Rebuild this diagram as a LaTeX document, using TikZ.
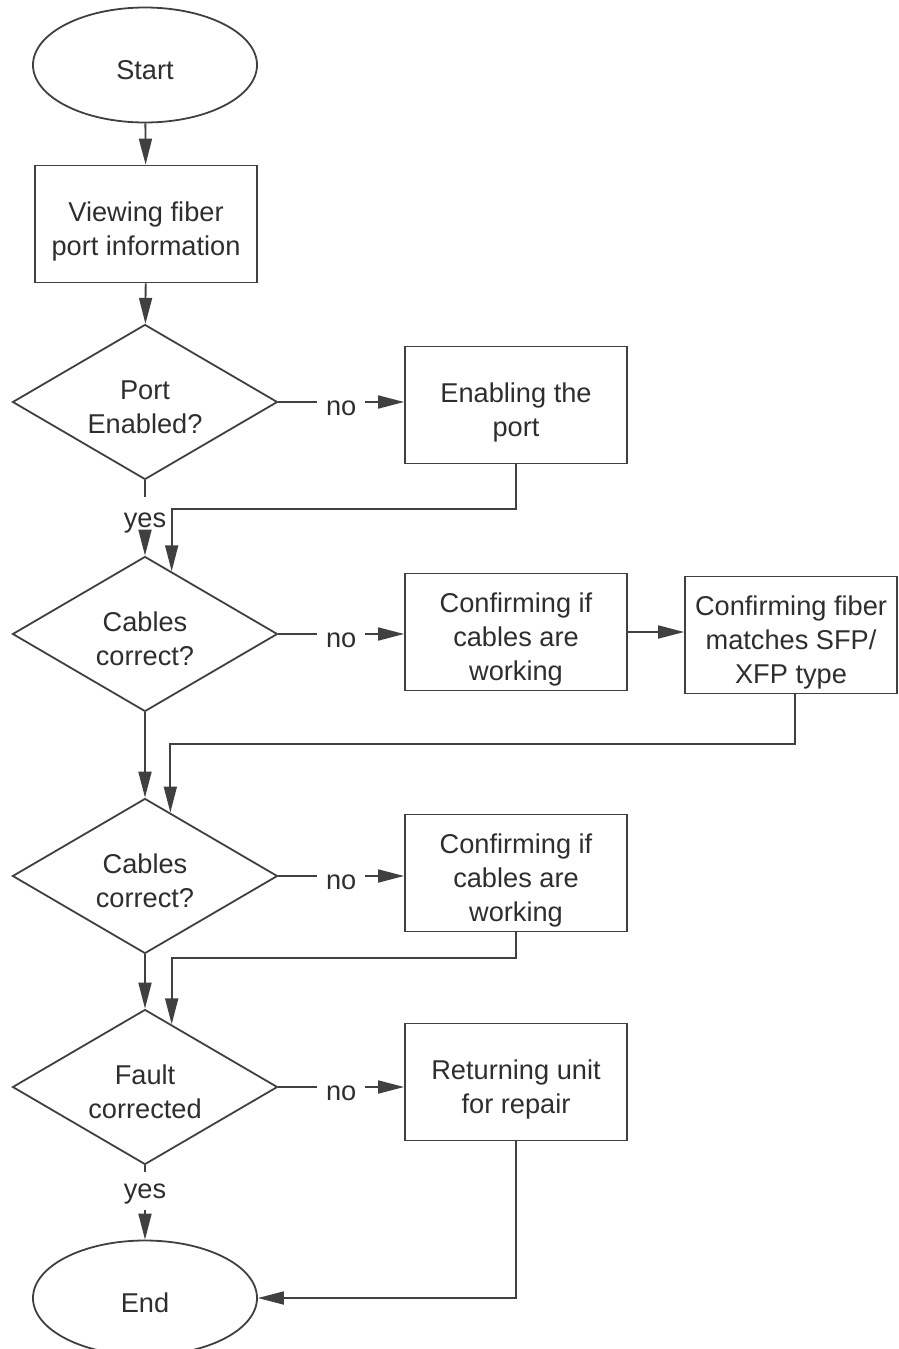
\documentclass[tikz,border=0pt]{standalone}
\usepackage{fontspec}
\setmainfont{Liberation Sans}
\usetikzlibrary{shapes.geometric,arrows.meta,calc}
\newcommand\tx[1]{\raisebox{-4pt}[\height][\depth]{\begin{tabular}{@{}c@{}}#1\end{tabular}}}
\begin{document}
\begin{tikzpicture}[x=0.5pt,y=-0.5pt,
  every node/.style={font=\fontsize{13.6}{17}\selectfont, text=black!82},
  line/.style={draw=black!75, line width=0.9pt},
  arr/.style={line, -{Triangle[length=13pt,width=6.5pt]}},
  term/.style={ellipse, line, minimum width=112pt, minimum height=57.5pt, inner sep=0pt},
  proc/.style={rectangle, line, minimum width=111pt, minimum height=58.5pt, inner sep=2pt},
  dec/.style={diamond, line, minimum width=132.5pt, minimum height=77.5pt, inner sep=0pt, shape aspect=1.71},
  lbl/.style={fill=white, draw=none, inner xsep=4.5pt, inner ysep=3.5pt},
  ylbl/.style={draw=none, inner xsep=4.5pt, inner ysep=0.5pt}
]
\useasboundingbox (0,0) rectangle (899,1349);

\node[term] (start) at (145,65) {\tx{Start}};
\node[proc] (view) at (146,224) {\tx{Viewing fiber\\port information}};
\node[dec] (d1) at (145,402) {\tx{Port\\Enabled?}};
\node[proc] (en) at (516,405) {\tx{Enabling the\\port}};
\node[ylbl] (yes1) at (145,523) {yes};
\node[dec] (d2) at (145,634) {\tx{Cables\\correct?}};
\node[proc] (c1) at (516,632) {\tx{Confirming if\\cables are\\working}};
\node[proc, minimum width=106pt] (fib) at (791,635) {\tx{Confirming fiber\\matches SFP/\\XFP type}};
\node[dec] (d3) at (145,876) {\tx{Cables\\correct?}};
\node[proc] (c2) at (516,873) {\tx{Confirming if\\cables are\\working}};
\node[dec] (d4) at (145,1087) {\tx{Fault\\corrected}};
\node[proc] (ret) at (516,1082) {\tx{Returning unit\\for repair}};
\node[ylbl] (yes2) at (145,1194) {yes};
\node[term] (end) at (145,1298) {\tx{End}};

\coordinate (y1) at (0,509);
\coordinate (y2) at (0,744);
\coordinate (y3) at (0,958);
\coordinate (p2) at ($(d2.north)!0.2!(d2.east)$);
\coordinate (p3) at ($(d3.north)!0.19!(d3.east)$);
\coordinate (p4) at ($(d4.north)!0.2!(d4.east)$);

\draw[arr] (start) -- (view);
\draw[arr] (view) -- (d1);
\draw[arr] (d1.east) -- node[lbl, yshift=-3pt]{no} (d1.east -| en.west);
\draw[line, shorten >=7pt] (d1.south) -- (yes1);
\draw[arr] (yes1) -- (d2.north);
\draw[arr] (en.south) -- (en.south |- y1) -| (p2);

\draw[arr] (d2.east) -- node[lbl, yshift=-3pt]{no} (d2.east -| c1.west);
\draw[arr] (c1.east) -- (c1.east -| fib.west);
\draw[arr] (d2.south) -- (d3.north);
\draw[arr] ([xshift=2pt]fib.south) -- ([xshift=2pt]fib.south |- y2) -| (p3);

\draw[arr] (d3.east) -- node[lbl, yshift=-3pt]{no} (d3.east -| c2.west);
\draw[arr] (d3.south) -- (d4.north);
\draw[arr] (c2.south) -- (c2.south |- y3) -| (p4);

\draw[arr] (d4.east) -- node[lbl, yshift=-3pt]{no} (d4.east -| ret.west);
\draw[line, shorten >=5pt] (d4.south) -- (yes2);
\draw[arr, shorten <=2pt] (yes2) -- (end.north);
\draw[arr] (ret.south) |- (end.east);
\end{tikzpicture}
\end{document}
